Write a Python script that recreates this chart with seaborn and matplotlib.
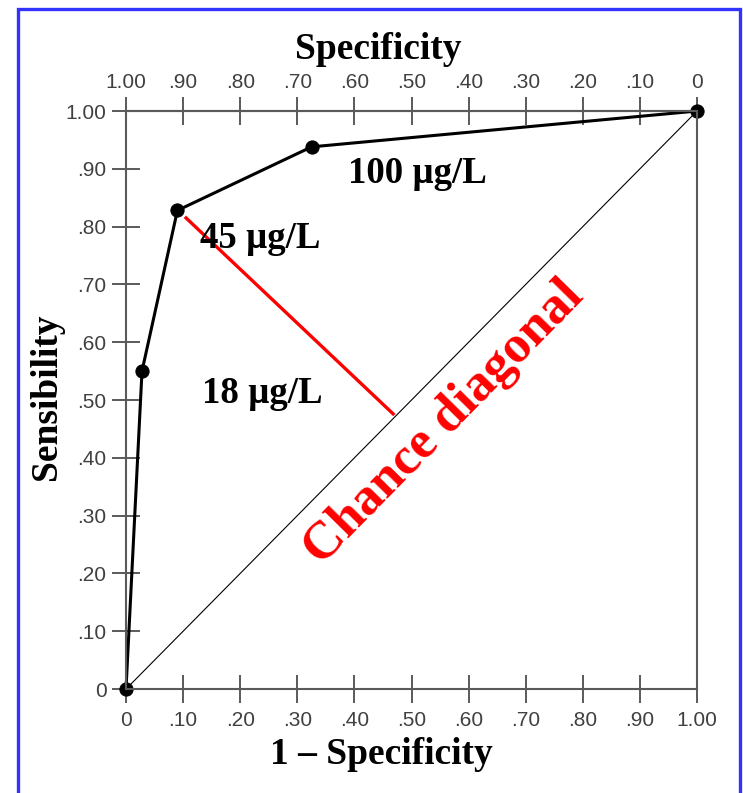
import matplotlib
matplotlib.use('Agg')
import matplotlib.pyplot as plt
import seaborn as sns
import pandas as pd
from matplotlib.patches import Rectangle

# ROC points
fpr = [0.0, 0.028, 0.09, 0.325, 1.0]
tpr = [0.0, 0.55, 0.828, 0.938, 1.0]

# perpendicular from the 45 ug/L point to the chance diagonal
red_x = [0.103, 0.47]
red_y = [0.817, 0.474]

ticks = [0.0, 0.1, 0.2, 0.3, 0.4, 0.5, 0.6, 0.7, 0.8, 0.9, 1.0]
tick_labels = ['0', '.10', '.20', '.30', '.40', '.50', '.60', '.70', '.80', '.90', '1.00']
spec_ticks = [1.0, 0.9, 0.8, 0.7, 0.6, 0.5, 0.4, 0.3, 0.2, 0.1, 0.0]
spec_labels = ['1.00', '.90', '.80', '.70', '.60', '.50', '.40', '.30', '.20', '.10', '0']

cutoff_text = ['100 µg/L', '45 µg/L', '18 µg/L']
cutoff_x = [0.389, 0.130, 0.133]
cutoff_y = [0.875, 0.763, 0.495]

df = pd.DataFrame({'fpr': fpr, 'tpr': tpr})

sns.set_theme(style='white')
plt.rcParams['font.family'] = ['Liberation Sans', 'DejaVu Sans']

fig = plt.figure(figsize=(7.43, 7.93), dpi=100)
ax = fig.add_axes([0.1696, 0.1311, 0.7685, 0.7289])

axis_col = '#5a5a5a'
lab_col = '#404040'
serif = ['Liberation Serif', 'DejaVu Serif']

# chance diagonal
ax.plot([0, 1], [0, 1], color='black', lw=0.8)
# red perpendicular
ax.plot(red_x, red_y, color='#ff0000', lw=2.4, solid_capstyle='butt')

sns.lineplot(data=df, x='fpr', y='tpr', sort=False, ax=ax, color='black',
             lw=2.2, marker='o', markersize=9.5, markeredgecolor='black')
for ln in ax.lines:
    ln.set_clip_on(False)

ax.set_xlim(0, 1)
ax.set_ylim(0, 1)
ax.set_xticks(ticks, labels=tick_labels)
ax.set_yticks(ticks, labels=tick_labels)

for s in ax.spines.values():
    s.set_visible(True)
    s.set_color(axis_col)
    s.set_linewidth(1.5)

ax.tick_params(axis='both', direction='inout', length=20, width=1.4,
               color=axis_col, labelcolor=lab_col, labelsize=15)
ax.tick_params(axis='x', bottom=True, top=False, pad=6)
ax.tick_params(axis='y', left=True, right=False, pad=4)

secax = ax.secondary_xaxis('top', functions=(lambda x: 1 - x, lambda x: 1 - x))
secax.set_xticks(spec_ticks, labels=spec_labels)
secax.tick_params(direction='inout', length=20, width=1.4, color=axis_col,
                  labelcolor=lab_col, labelsize=15, pad=3.5)
secax.spines['top'].set_color(axis_col)
secax.spines['top'].set_linewidth(1.5)

ax.set_xlabel('1 – Specificity', family=serif, fontweight='bold', fontsize=27, color='black')
ax.xaxis.set_label_coords(0.447, -0.083)
ax.set_ylabel('Sensibility', family=serif, fontweight='bold', fontsize=27, color='black')
ax.yaxis.set_label_coords(-0.108, 0.505)
secax.set_xlabel('Specificity', family=serif, fontweight='bold', fontsize=27,
                 color='black', labelpad=10)
secax.xaxis.label.set_x(0.442)

for t, x, y in zip(cutoff_text, cutoff_x, cutoff_y):
    ax.text(x, y, t, family=serif, fontweight='bold', fontsize=26.5,
            ha='left', va='baseline', color='black')

ax.text(0.556, 0.46, 'Chance diagonal', family=serif, fontweight='bold',
        fontsize=38, color='#ff0000', rotation=45.5, rotation_mode='anchor',
        ha='center', va='center')

# blue frame around the slide picture
fig.patches.append(Rectangle((0.0236, -0.05), 0.9724, 1.039, transform=fig.transFigure,
                             fill=False, edgecolor='#3333ff', lw=2.4))

fig.savefig('out.png', dpi=100)
